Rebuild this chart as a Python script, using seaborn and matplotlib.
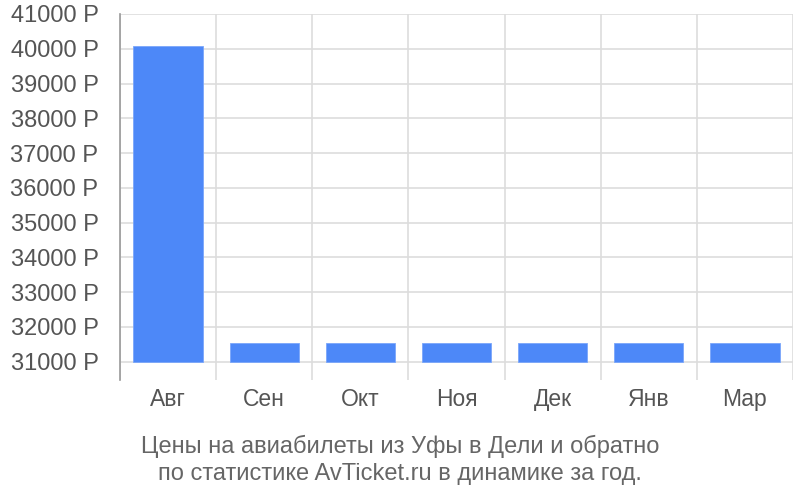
import pandas as pd
import matplotlib
matplotlib.use('Agg')
import matplotlib.pyplot as plt
import seaborn as sns

# data
months = ['Авг', 'Сен', 'Окт', 'Ноя', 'Дек', 'Янв', 'Мар']
prices = [40070, 31530, 31530, 31530, 31530, 31530, 31530]
y_ticks = list(range(31000, 42000, 1000))
base = 31000
caption = ['Цены на авиабилеты из Уфы в Дели и обратно',
           'по статистике AvTicket.ru в динамике за год.']

sns.set_style('white')
plt.rcParams['font.family'] = ['Liberation Sans', 'DejaVu Sans']

df = pd.DataFrame({'month': months, 'price': [p - base for p in prices]})

fig = plt.figure(figsize=(8, 5), dpi=100)
ax = fig.add_axes([0.15, 0.24, 0.84125, 0.732])

sns.barplot(data=df, x='month', y='price', color='#4d88f8', saturation=1,
            width=0.72, bottom=base, edgecolor='#7aa6fa', linewidth=0.6,
            ax=ax, zorder=3)

ax.set_ylim(30468, 41000)
ax.set_xlim(-0.5, len(months) - 0.5)
ax.set_yticks(y_ticks)
ax.set_yticklabels([f'{v} Р' for v in y_ticks])
ax.set_xticks(range(len(months)))
ax.set_xticklabels(months)
ax.set_xticks([i - 0.5 for i in range(len(months) + 1)], minor=True)

ax.grid(axis='y', color='#dddddd', linewidth=1.2, zorder=0)
ax.grid(axis='x', which='minor', color='#dddddd', linewidth=1.2, zorder=0)
ax.grid(axis='x', which='major', visible=False)

ax.tick_params(axis='y', length=14.5, width=1.2, color='#dddddd', pad=1,
               labelsize=17, labelcolor='#555555')
ax.tick_params(axis='x', which='major', length=0, pad=6,
               labelsize=16.5, labelcolor='#555555')
ax.tick_params(axis='x', which='minor', length=0)

for s in ['top', 'right', 'bottom']:
    ax.spines[s].set_visible(False)
ax.spines['left'].set_color('#999999')
ax.spines['left'].set_linewidth(1.2)

ax.set_xlabel('')
ax.set_ylabel('')

fig.text(0.5, 0.108, caption[0], ha='center', va='center',
         fontsize=17, color='#666666')
fig.text(0.5, 0.052, caption[1], ha='center', va='center',
         fontsize=17, color='#666666')

fig.savefig('out.png', dpi=100)
